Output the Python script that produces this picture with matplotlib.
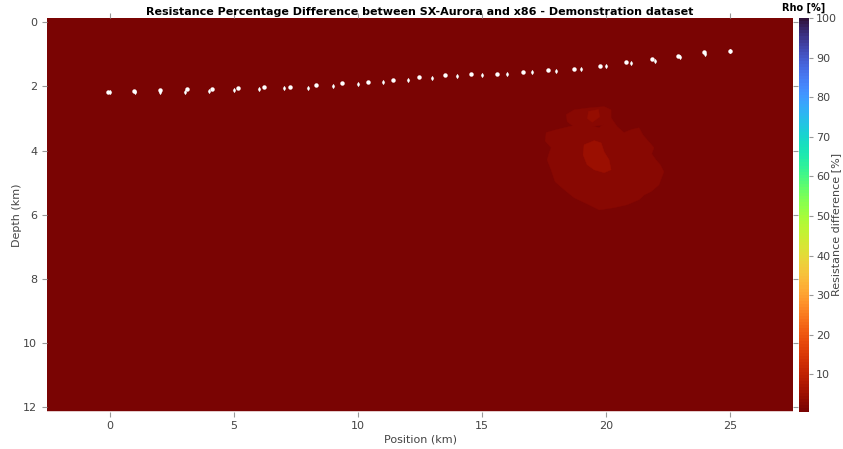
import numpy as np
import matplotlib.pyplot as plt
from matplotlib.collections import PolyCollection
from matplotlib.colors import Normalize

# model extent (km) and background difference
model_x = [-2.55, 27.55]
model_z = [-0.13, 12.13]
background_diff = 0.6

# anomaly zones: outline (position, depth) and difference in %
body_outline = [(17.59, 3.44), (17.95, 3.36), (18.32, 3.29), (18.70, 3.22), (19.12, 3.10),
                (19.40, 3.22), (19.73, 3.29), (20.00, 3.10), (20.21, 2.98), (20.45, 3.25),
                (20.73, 3.44), (21.05, 3.34), (21.34, 3.29), (21.50, 3.52), (21.66, 3.66),
                (21.94, 3.91), (21.85, 4.10), (22.02, 4.29), (22.20, 4.45), (22.34, 4.66),
                (22.14, 5.07), (21.82, 5.28), (21.55, 5.38), (21.34, 5.53), (20.85, 5.69),
                (20.33, 5.78), (19.73, 5.85), (19.32, 5.69), (18.72, 5.47), (18.32, 5.22),
                (17.95, 4.97), (17.79, 4.60), (17.63, 4.29), (17.70, 4.10), (17.79, 3.91),
                (17.55, 3.70)]
body_diff = 2.8
cap_outline = [(18.40, 2.88), (18.72, 2.73), (19.32, 2.67), (19.93, 2.63), (20.21, 2.73),
               (20.21, 3.04), (19.93, 3.20), (19.32, 3.26), (18.72, 3.26), (18.44, 3.10)]
cap_diff = 2.8
cap_core = [(19.30, 2.78), (19.70, 2.72), (19.75, 2.95), (19.45, 3.12), (19.25, 3.00)]
cap_core_diff = 4.0
core_outline = [(19.12, 3.82), (19.53, 3.69), (19.81, 3.76), (19.93, 4.04), (20.13, 4.29),
                (20.21, 4.60), (19.93, 4.69), (19.53, 4.60), (19.24, 4.44), (19.08, 4.13)]
core_diff = 4.5

# electrodes at integer positions
elec_x = np.arange(0, 26)
elec_z = [2.17, 2.18, 2.18, 2.17, 2.14, 2.11, 2.08, 2.05, 2.04, 1.99, 1.94, 1.87, 1.80,
          1.74, 1.67, 1.64, 1.62, 1.55, 1.52, 1.47, 1.38, 1.27, 1.20, 1.10, 1.00, 0.90]
# topography nodes
topo_x = [-0.07, 0.98, 2.02, 3.08, 4.12, 5.15, 6.20, 7.24, 8.30, 9.34, 10.39, 11.43, 12.47,
          13.51, 14.56, 15.61, 16.64, 17.68, 18.73, 19.78, 20.81, 21.86, 22.90, 23.95, 25.00]
topo_z = [2.16, 2.13, 2.11, 2.09, 2.07, 2.06, 2.03, 2.01, 1.97, 1.91, 1.86, 1.79, 1.71,
          1.65, 1.61, 1.60, 1.54, 1.49, 1.45, 1.36, 1.24, 1.16, 1.04, 0.94, 0.89]

cmin, cmax = 0.6, 100
cb_ticks = [10, 20, 30, 40, 50, 60, 70, 80, 90, 100]

tick_col = "#999999"
label_col = "#444444"
plt.rcParams["font.size"] = 8

fig = plt.figure(figsize=(8.43, 4.49), dpi=100)
ax = fig.add_axes([47 / 843, 37.5 / 449, 746 / 843, 393.5 / 449])
cax = fig.add_axes([799 / 843, 37.5 / 449, 10 / 843, 393.5 / 449])

cmap = plt.get_cmap("turbo_r", 128)
norm = Normalize(vmin=cmin, vmax=cmax)

background = [(model_x[0], model_z[0]), (model_x[1], model_z[0]),
              (model_x[1], model_z[1]), (model_x[0], model_z[1])]
polys = [background, body_outline, cap_outline, cap_core, core_outline]
vals = [background_diff, body_diff, cap_diff, cap_core_diff, core_diff]
pc = PolyCollection(polys, cmap=cmap, norm=norm, edgecolors="face", linewidths=0.3)
pc.set_array(np.array(vals))
ax.add_collection(pc)

ax.plot(elec_x, elec_z, "d", color="white", ms=2.4, mec="#dddddd", mew=0.3, zorder=3)
ax.plot(topo_x, topo_z, "o", color="white", ms=3.2, mec="white", mew=0, zorder=3)

ax.set_xlim(model_x)
ax.set_ylim(model_z[1], model_z[0])
ax.set_xticks([0, 5, 10, 15, 20, 25])
ax.set_yticks([0, 2, 4, 6, 8, 10, 12])
ax.tick_params(direction="out", length=3.5, width=0.8, color=tick_col, labelcolor=label_col,
               top=True, right=True, labelsize=8)
for s in ax.spines.values():
    s.set_visible(False)
ax.set_xlabel("Position (km)", color=label_col, fontsize=8, labelpad=2)
ax.set_ylabel("Depth (km)", color=label_col, fontsize=8, labelpad=1)
ax.set_title("Resistance Percentage Difference between SX-Aurora and x86 - Demonstration dataset",
             fontsize=8, fontweight="bold", pad=2)

cb = fig.colorbar(pc, cax=cax, ticks=cb_ticks)
cb.outline.set_visible(False)
cb.ax.tick_params(length=3, width=0.8, color=tick_col, labelcolor=label_col, labelsize=8, pad=2)
fig.text(836 / 843, 0.5, "Resistance difference [%]", rotation=90, ha="center", va="center",
         color=label_col, fontsize=8)
cax.set_title("Rho [%]", fontsize=7, fontweight="bold", pad=5)

fig.savefig("out.png", dpi=100)
